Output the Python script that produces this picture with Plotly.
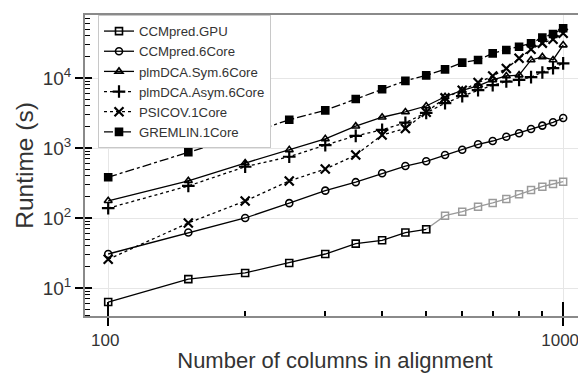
import plotly.graph_objects as go

columns = [100, 150, 200, 250, 300, 350, 400, 450, 500, 550, 600, 650, 700, 750, 800, 850, 900, 950, 1000]

ccmpred_gpu = [6.3, 13.4, 16.4, 22.8, 30.6, 43, 48, 62, 69, 108, 123, 145, 164, 187, 218, 251, 280, 306, 330]
ccmpred_6core = [30.6, 62, 100, 163, 246, 325, 436, 553, 646, 794, 946, 1130, 1259, 1450, 1625, 1870, 2090, 2330, 2680]
plmdca_sym = [176, 340, 610, 940, 1350, 2050, 2750, 3270, 3980, 5400, 6650, 7700, 9400, 10700, 11000, 18100, 20000, 18100, 29500]
plmdca_asym = [138, 287, 540, 750, 1100, 1490, 1820, 2300, 3180, 4370, 5500, 6700, 7900, 8900, 9400, 10300, 12000, 13800, 16200]
psicov = [25.7, 85, 175, 338, 500, 794, 1535, 1900, 3250, 5200, 6700, 8600, 10700, 13700, 19200, 25800, 31500, 35700, 43500]
gremlin = [383, 870, 1550, 2530, 3450, 5000, 6900, 9100, 10900, 13300, 16600, 18100, 22500, 25100, 28000, 31300, 37700, 42500, 51300]

gpu_split = 8  # index of 500 columns, after which values are drawn in grey

y_tickvals = [10, 100, 1000, 10000]
y_ticktext = ["10<sup>1</sup>", "10<sup>2</sup>", "10<sup>3</sup>", "10<sup>4</sup>"]
y_minor = [m * d for d in [1, 10, 100, 1000, 10000] for m in range(2, 10)]
x_tickvals = [100, 1000]
x_ticktext = ["100", "1000"]
x_minor = [200, 300, 400, 500, 600, 700, 800, 900]

FONT = "Liberation Sans, Arial, sans-serif"
TXT = "#333333"
XRANGE = [1.949, 3.048]
YRANGE = [0.6, 4.9]

fig = go.Figure()

# grey part of GPU series
fig.add_trace(go.Scatter(
    x=columns[gpu_split:], y=ccmpred_gpu[gpu_split:], mode="lines+markers",
    line=dict(color="#9a9a9a", width=1.3),
    marker=dict(symbol="square-open", size=7, color="#9a9a9a", line=dict(width=1.5)),
    showlegend=False, legendgroup="gpu", hoverinfo="skip"))

series = [
    ("CCMpred.GPU", columns[:gpu_split + 1], ccmpred_gpu[:gpu_split + 1], "square-open", "solid"),
    ("CCMpred.6Core", columns, ccmpred_6core, "circle-open", "solid"),
    ("plmDCA.Sym.6Core", columns, plmdca_sym, "triangle-up-open", "solid"),
    ("plmDCA.Asym.6Core", columns, plmdca_asym, "cross-thin-open", "dot"),
    ("PSICOV.1Core", columns, psicov, "x-thin-open", "dot"),
    ("GREMLIN.1Core", columns, gremlin, "square", "dashdot"),
]

for name, xs, ys, sym, dash in series:
    lw = 2.2 if "thin" in sym else 1.6
    size = 9 if "thin" in sym else 7
    fig.add_trace(go.Scatter(
        x=xs, y=ys, mode="lines+markers", name=name,
        legendgroup="gpu" if name == "CCMpred.GPU" else name,
        line=dict(color="black", width=1.3, dash=dash),
        marker=dict(symbol=sym, size=size, color="black", line=dict(width=lw, color="black")),
    ))

# invisible trace on overlay axes, used only to draw the inner part of the major ticks
fig.add_trace(go.Scatter(x=columns, y=gremlin, xaxis="x2", yaxis="y2", mode="markers",
                         marker=dict(opacity=0), showlegend=False, hoverinfo="skip"))

# the page body has an 8px default margin, so the figure is 8px smaller than the window
fig.update_layout(
    width=578, height=365,
    margin=dict(l=77, r=1, t=7, b=57),
    paper_bgcolor="white", plot_bgcolor="white",
    font=dict(family=FONT, color=TXT),
    showlegend=True,
    legend=dict(
        x=0.026, y=1.0, xanchor="left", yanchor="top",
        bgcolor="white", bordercolor="#c8c8c8", borderwidth=1,
        font=dict(size=13.2, family=FONT, color=TXT),
        tracegroupgap=0, itemwidth=30,
    ),
    xaxis=dict(
        type="log", range=XRANGE, automargin=False,
        tickvals=x_tickvals, ticktext=x_ticktext,
        tickfont=dict(size=17, family=FONT, color=TXT),
        ticklabelshift=-3, ticklabeloverflow="allow",
        ticks="outside", ticklen=8, tickwidth=2, tickcolor="black",
        minor=dict(ticks="inside", ticklen=5, tickwidth=1.5, tickcolor="black",
                   tickvals=x_minor, showgrid=False),
        showgrid=True, gridcolor="#e6e6e6", gridwidth=1,
        showline=True, linecolor="#8a8a8a", linewidth=2, mirror=True,
        zeroline=False,
        title=dict(text="Number of columns in alignment", font=dict(size=22, family=FONT, color=TXT), standoff=5),
    ),
    yaxis=dict(
        type="log", range=YRANGE, automargin=False,
        tickvals=y_tickvals, ticktext=y_ticktext,
        tickfont=dict(size=19, family=FONT, color=TXT),
        ticks="outside", ticklen=8, tickwidth=2, tickcolor="black",
        minor=dict(ticks="inside", ticklen=5, tickwidth=1.2, tickcolor="black",
                   tickvals=y_minor, showgrid=False),
        showgrid=True, gridcolor="#e6e6e6", gridwidth=1,
        showline=True, linecolor="#8a8a8a", linewidth=2, mirror=True,
        zeroline=False,
        title=dict(text="Runtime (s)", font=dict(size=24.5, family=FONT, color=TXT), standoff=2),
    ),
    xaxis2=dict(
        type="log", range=XRANGE, overlaying="x", anchor="y2", side="bottom",
        tickvals=x_tickvals, ticks="inside", ticklen=14, tickwidth=2, tickcolor="black",
        showticklabels=False, showgrid=False, showline=False, zeroline=False,
    ),
    yaxis2=dict(
        type="log", range=YRANGE, overlaying="y", anchor="x2", side="left",
        tickvals=y_tickvals, ticks="inside", ticklen=7, tickwidth=2, tickcolor="black",
        showticklabels=False, showgrid=False, showline=False, zeroline=False,
    ),
)

fig.write_html("out.html")
